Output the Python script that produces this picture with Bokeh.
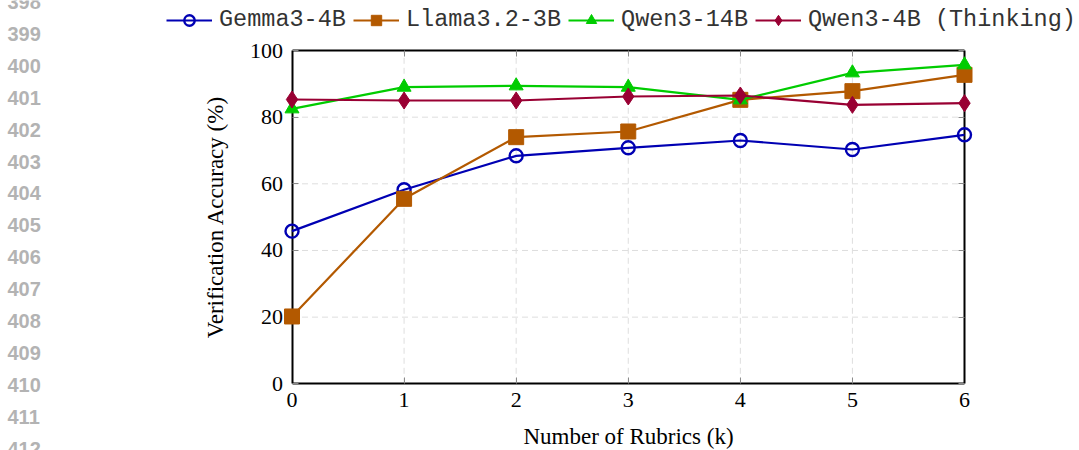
from bokeh.plotting import figure
from bokeh.models import Range1d, LinearAxis, FixedTicker, Legend, LegendItem, Label
from bokeh.embed import file_html
from bokeh.resources import INLINE

# ---- data ----
k_values = [0, 1, 2, 3, 4, 5, 6]
gemma3_4b = [45.8, 58.2, 68.4, 70.8, 73.0, 70.3, 74.7]
llama32_3b = [20.2, 55.5, 74.0, 75.7, 85.2, 87.8, 92.7]
qwen3_14b = [82.5, 89.0, 89.4, 89.0, 85.2, 93.3, 95.7]
qwen3_4b_thinking = [85.3, 85.0, 85.0, 86.2, 86.5, 83.7, 84.2]
series_names = ["Gemma3-4B", "Llama3.2-3B", "Qwen3-14B", "Qwen3-4B (Thinking)"]
x_ticks = [0, 1, 2, 3, 4, 5, 6]
y_ticks = [0, 20, 40, 60, 80, 100]
line_numbers = list(range(398, 413))

# ---- layout (pixel geometry of the axis box inside the canvas) ----
W, H = 1079, 450
BOX_L, BOX_R, BOX_T, BOX_B = 291.5, 964.0, 50.0, 383.3
XMIN, XMAX, YMIN, YMAX = 0, 6, 0, 100
sx = (BOX_R - BOX_L) / (XMAX - XMIN)
sy = (BOX_B - BOX_T) / (YMAX - YMIN)
x_range = Range1d(XMIN - BOX_L / sx, XMAX + (W - BOX_R) / sx)
y_range = Range1d(YMIN - (H - BOX_B) / sy, YMAX + BOX_T / sy)
SERIF = "Liberation Serif"

p = figure(width=W, height=H, output_backend="svg", toolbar_location=None,
           x_range=x_range, y_range=y_range,
           x_axis_type=None, y_axis_type=None,
           min_border=0)
p.outline_line_color = None
p.background_fill_color = "white"
p.border_fill_color = "white"
p.xgrid.visible = False
p.ygrid.visible = False

# dashed grid lines within the box
grid_x = [t for t in x_ticks if XMIN < t < XMAX]
grid_y = [t for t in y_ticks if YMIN < t < YMAX]
p.segment(x0=grid_x, y0=[YMIN] * len(grid_x), x1=grid_x, y1=[YMAX] * len(grid_x),
          line_color="#dedede", line_width=1, line_dash="6 4")
p.segment(x0=[XMIN] * len(grid_y), y0=grid_y, x1=[XMAX] * len(grid_y), y1=grid_y,
          line_color="#dedede", line_width=1, line_dash="6 4")

def style_axis(ax, labels=True):
    ax.axis_line_color = "black"
    ax.axis_line_width = 2
    ax.major_tick_in = 6
    ax.major_tick_out = 0
    ax.major_tick_line_color = "#8a8a8a"
    ax.major_tick_line_width = 1
    ax.minor_tick_line_color = None
    ax.major_label_text_font = SERIF
    ax.major_label_text_font_size = "22px"
    ax.major_label_text_color = "black" if labels else None
    ax.axis_label_text_font = SERIF
    ax.axis_label_text_font_size = "23px"
    ax.axis_label_text_font_style = "normal"
    ax.axis_label_text_color = "black"

xaxis = LinearAxis(ticker=FixedTicker(ticks=x_ticks), fixed_location=YMIN,
                   bounds=(XMIN, XMAX), axis_label="Number of Rubrics (k)")
style_axis(xaxis)
xaxis.major_label_standoff = 9
xaxis.axis_label_standoff = 14
p.add_layout(xaxis, "below")

yaxis = LinearAxis(ticker=FixedTicker(ticks=y_ticks), fixed_location=XMIN,
                   bounds=(YMIN, YMAX), axis_label="Verification Accuracy (%)")
style_axis(yaxis)
yaxis.major_label_standoff = 9
yaxis.axis_label_standoff = 20
p.add_layout(yaxis, "left")

raxis = LinearAxis(ticker=FixedTicker(ticks=y_ticks), fixed_location=XMAX, bounds=(YMIN, YMAX))
style_axis(raxis, labels=False)
p.add_layout(raxis, "right")
taxis = LinearAxis(ticker=FixedTicker(ticks=x_ticks), fixed_location=YMAX, bounds=(XMIN, XMAX))
style_axis(taxis, labels=False)
p.add_layout(taxis, "above")

series = [gemma3_4b, llama32_3b, qwen3_14b, qwen3_4b_thinking]
colors = ["#0000b3", "#b35900", "#00cc00", "#990033"]
markers = ["circle", "square", "triangle", "diamond"]
sizes = [13, 15, 14, 17]

items = []
for name, ys, c, m, s in zip(series_names, series, colors, markers, sizes):
    lr = p.line(k_values, ys, line_color=c, line_width=2.2)
    if m == "circle":
        sr = p.scatter(k_values, ys, marker=m, size=s, fill_color=None,
                       line_color=c, line_width=2.4)
    else:
        sr = p.scatter(k_values, ys, marker=m, size=s, fill_color=c,
                       line_color=c, line_width=1)
    lr.level = "overlay"
    sr.level = "overlay"
    items.append(LegendItem(label=name, renderers=[lr, sr]))

legend = Legend(items=items, orientation="horizontal", location=(166, H - 33),
                label_text_font="Liberation Mono", label_text_font_size="23.5px",
                label_text_color="#333333",
                glyph_width=46, glyph_height=26, label_standoff=7, spacing=7,
                padding=0, margin=0, border_line_color=None,
                background_fill_alpha=0)
p.add_layout(legend, "center")

# page line numbers at left
for i, n in enumerate(line_numbers):
    y_page = 1.5 + 31.9 * i
    p.add_layout(Label(x=7, y=H - y_page, x_units="screen", y_units="screen",
                       text=str(n), text_font="Liberation Sans", text_font_style="bold",
                       text_font_size="20px", text_color="#b3b3b3",
                       text_baseline="middle", text_align="left"))

open("out.html", "w").write(file_html(p, INLINE))
